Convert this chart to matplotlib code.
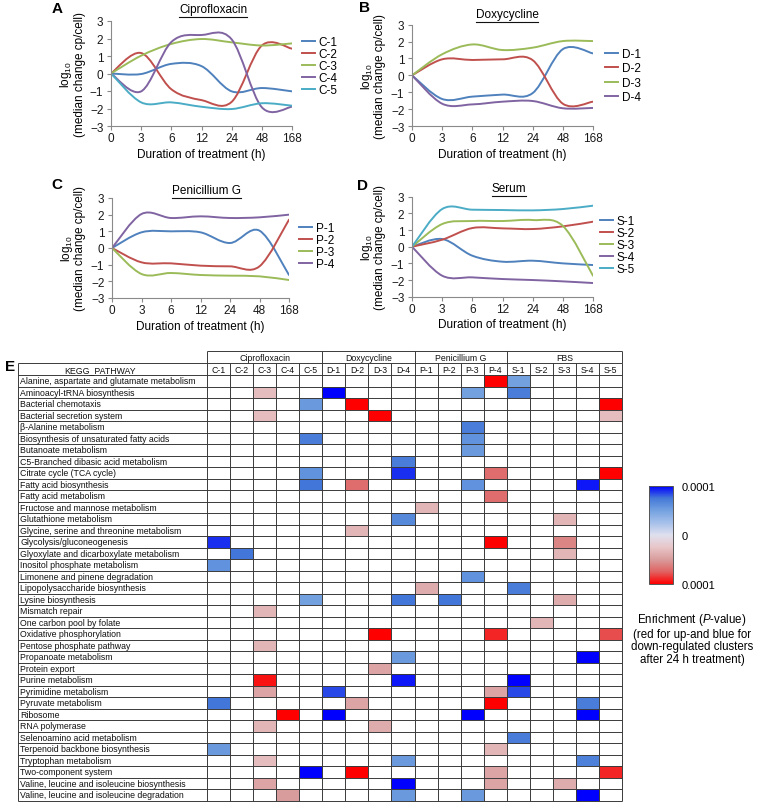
import matplotlib.pyplot as plt
import numpy as np
from matplotlib.path import Path
from matplotlib.patches import PathPatch
from matplotlib.lines import Line2D
from matplotlib.colors import LinearSegmentedColormap

plt.rcParams['font.family'] = ['Liberation Sans', 'DejaVu Sans']
plt.rcParams['mathtext.fontset'] = 'custom'
plt.rcParams['mathtext.rm'] = 'Liberation Sans'
plt.rcParams['mathtext.it'] = 'Liberation Sans:italic'
plt.rcParams['mathtext.default'] = 'regular'

W, H = 757, 804

# time course data (log10 median change cp/cell)
timepoints = ['0', '3', '6', '12', '24', '48', '168']

cipro_labels = ['C-1', 'C-2', 'C-3', 'C-4', 'C-5']
cipro_values = [
    [0, -0.03, 0.55, 0.42, -1.02, -0.83, -1.02],
    [0, 1.17, -0.90, -1.52, -1.62, 1.60, 1.42],
    [0, 1.02, 1.69, 1.97, 1.78, 1.60, 1.72],
    [0, -1.02, 1.80, 2.20, 1.95, -1.93, -1.90],
    [0, -1.65, -1.65, -1.90, -2.03, -1.70, -1.84],
]
doxy_labels = ['D-1', 'D-2', 'D-3', 'D-4']
doxy_values = [
    [0, -1.40, -1.26, -1.14, -1.05, 1.55, 1.30],
    [0, 0.95, 0.91, 0.95, 0.90, -1.68, -1.56],
    [0, 1.25, 1.83, 1.50, 1.64, 2.03, 2.03],
    [0, -1.68, -1.72, -1.56, -1.52, -1.95, -1.93],
]
peni_labels = ['P-1', 'P-2', 'P-3', 'P-4']
peni_values = [
    [0, 0.94, 1.00, 0.94, 0.30, 1.04, -1.62],
    [0, -0.86, -0.92, -1.06, -1.10, -1.10, 1.70],
    [0, -1.56, -1.50, -1.62, -1.66, -1.70, -1.92],
    [0, 2.04, 1.80, 1.90, 1.80, 1.84, 2.00],
]
serum_labels = ['S-1', 'S-2', 'S-3', 'S-4', 'S-5']
serum_values = [
    [0, 0.46, -0.54, -0.90, -0.84, -1.00, -1.10],
    [0, 0.42, 1.12, 1.10, 1.06, 1.22, 1.50],
    [0, 1.36, 1.54, 1.54, 1.60, 1.25, -1.74],
    [0, -1.74, -1.84, -1.94, -2.00, -2.08, -2.18],
    [0, 2.26, 2.22, 2.20, 2.18, 2.26, 2.46],
]

# KEGG enrichment table
pathways = [
    'Alanine, aspartate and glutamate metabolism', 'Aminoacyl-tRNA biosynthesis',
    'Bacterial chemotaxis', 'Bacterial secretion system', 'β-Alanine metabolism',
    'Biosynthesis of unsaturated fatty acids', 'Butanoate metabolism',
    'C5-Branched dibasic acid metabolism', 'Citrate cycle (TCA cycle)',
    'Fatty acid biosynthesis', 'Fatty acid metabolism', 'Fructose and mannose metabolism',
    'Glutathione metabolism', 'Glycine, serine and threonine metabolism',
    'Glycolysis/gluconeogenesis', 'Glyoxylate and dicarboxylate metabolism',
    'Inositol phosphate metabolism', 'Limonene and pinene degradation',
    'Lipopolysaccharide biosynthesis', 'Lysine biosynthesis', 'Mismatch repair',
    'One carbon pool by folate', 'Oxidative phosphorylation', 'Pentose phosphate pathway',
    'Propanoate metabolism', 'Protein export', 'Purine metabolism', 'Pyrimidine metabolism',
    'Pyruvate metabolism', 'Ribosome', 'RNA polymerase', 'Selenoamino acid metabolism',
    'Terpenoid backbone biosynthesis', 'Tryptophan metabolism', 'Two-component system',
    'Valine, leucine and isoleucine biosynthesis', 'Valine, leucine and isoleucine degradation',
]
groups = ['Ciprofloxacin', 'Doxycycline', 'Penicillium G', 'FBS']
group_sizes = [5, 4, 4, 5]
clusters = cipro_labels + doxy_labels + peni_labels + serum_labels

# (pathway row, cluster, score): + blue = down-regulated, - red = up-regulated
enrichment = [
    (0, 'P-4', -1.0), (0, 'S-1', 0.5),
    (1, 'C-3', -0.3), (1, 'D-1', 1.0), (1, 'P-3', 0.5), (1, 'S-1', 0.72),
    (2, 'C-5', 0.55), (2, 'D-2', -1.0), (2, 'S-5', -1.0),
    (3, 'C-3', -0.3), (3, 'D-3', -1.0), (3, 'S-5', -0.3),
    (4, 'P-3', 0.72),
    (5, 'C-5', 0.72), (5, 'P-3', 0.6),
    (6, 'P-3', 0.55),
    (7, 'D-4', 0.72),
    (8, 'C-5', 0.6), (8, 'D-4', 0.9), (8, 'P-4', -0.7), (8, 'S-5', -1.0),
    (9, 'C-5', 0.75), (9, 'D-2', -0.7), (9, 'P-3', 0.6), (9, 'S-4', 0.95),
    (10, 'P-4', -0.7),
    (11, 'P-1', -0.35),
    (12, 'D-4', 0.65), (12, 'S-3', -0.35),
    (13, 'D-2', -0.35),
    (14, 'C-1', 0.9), (14, 'P-4', -1.0), (14, 'S-3', -0.6),
    (15, 'C-2', 0.75), (15, 'S-3', -0.35),
    (16, 'C-1', 0.6),
    (17, 'P-3', 0.6),
    (18, 'P-1', -0.4), (18, 'S-1', 0.72),
    (19, 'C-5', 0.5), (19, 'D-4', 0.75), (19, 'P-2', 0.75), (19, 'S-3', -0.4),
    (20, 'C-3', -0.35),
    (21, 'S-2', -0.35),
    (22, 'D-3', -1.0), (22, 'P-4', -0.9), (22, 'S-5', -0.8),
    (23, 'C-3', -0.35),
    (24, 'D-4', 0.55), (24, 'S-4', 1.0),
    (25, 'D-3', -0.45),
    (26, 'C-3', -0.95), (26, 'D-4', 0.95), (26, 'S-1', 1.0),
    (27, 'C-3', -0.45), (27, 'D-1', 0.85), (27, 'P-4', -0.45), (27, 'S-1', 0.85),
    (28, 'C-1', 0.75), (28, 'D-2', -0.45), (28, 'P-4', -1.0), (28, 'S-4', 0.72),
    (29, 'C-4', -1.0), (29, 'D-1', 1.0), (29, 'P-3', 1.0), (29, 'S-4', 1.0),
    (30, 'C-3', -0.35), (30, 'D-3', -0.4),
    (31, 'S-1', 0.72),
    (32, 'C-1', 0.55), (32, 'P-4', -0.35),
    (33, 'C-3', -0.3), (33, 'D-4', 0.55), (33, 'S-4', 0.7),
    (34, 'C-5', 1.0), (34, 'D-2', -1.0), (34, 'P-4', -0.45), (34, 'S-5', -0.9),
    (35, 'C-3', -0.45), (35, 'D-4', 1.0), (35, 'P-4', -0.45), (35, 'S-3', -0.4),
    (36, 'C-4', -0.5), (36, 'D-4', 0.55), (36, 'P-3', 0.55), (36, 'S-4', 1.0),
]

line_colors = ['#4F81BD', '#C0504D', '#9BBB59', '#8064A2', '#4BACC6']


def px_axes(x0, y0, x1, y1):
    return fig.add_axes([x0 / W, 1 - y1 / H, (x1 - x0) / W, (y1 - y0) / H])


def smooth_path(ys):
    # Excel-like smoothed line: Catmull-Rom segments as cubic Beziers
    pts = np.column_stack([np.arange(len(ys)), ys]).astype(float)
    verts = [pts[0]]
    codes = [Path.MOVETO]
    n = len(pts)
    for i in range(n - 1):
        p0 = pts[i - 1] if i > 0 else pts[i]
        p1, p2 = pts[i], pts[i + 1]
        p3 = pts[i + 2] if i + 2 < n else p2
        verts += [p1 + (p2 - p0) / 6, p2 - (p3 - p1) / 6, p2]
        codes += [Path.CURVE4] * 3
    return Path(verts, codes)


fig = plt.figure(figsize=(W / 100, H / 100), dpi=100)

panels = [
    ('A', 'Ciprofloxacin', cipro_labels, cipro_values, (111, 22, 292, 127),
     (213, 10), (302, 67.5), 0.0, (57, 9)),
    ('B', 'Doxycycline', doxy_labels, doxy_values, (412, 25.7, 593, 127),
     (507, 15), (605, 76.5), 0.2, (364, 8)),
    ('C', 'Penicillium G', peni_labels, peni_values, (112, 199, 289, 299),
     (206, 191), (299, 247.5), 0.0, (57, 185)),
    ('D', 'Serum', serum_labels, serum_values, (412, 197.7, 593, 297.7),
     (509, 189), (600, 246.5), 0.0, (363, 186)),
]

titles = []
for letter, title, labels, values, box, tpos, lpos, lspace, letpos in panels:
    ax = px_axes(*box)
    for k, ys in enumerate(values):
        ax.add_patch(PathPatch(smooth_path(ys), fill=False,
                               edgecolor=line_colors[k], lw=1.4, capstyle='round'))
    ax.set_xlim(0, len(timepoints) - 1)
    ax.set_ylim(-3, 3)
    ax.set_xticks(range(len(timepoints)), timepoints)
    ax.set_yticks(range(-3, 4))
    for s in ['top', 'right']:
        ax.spines[s].set_visible(False)
    for s in ['left', 'bottom']:
        ax.spines[s].set_color('#8a8a8a')
        ax.spines[s].set_linewidth(0.8)
    ax.tick_params(colors='#8a8a8a', labelcolor='#1a1a1a', labelsize=8.5,
                   length=3, width=0.8)
    ax.tick_params(axis='x', pad=1.5)
    ax.tick_params(axis='y', pad=2.5)
    ax.set_xlabel('Duration of treatment (h)', fontsize=8.5, labelpad=2.5)
    # two-line y label, placed line by line
    ymid = 1 - (box[1] + box[3]) / 2 / H
    fig.text((box[0] - 45) / W, ymid, 'log$_{10}$', rotation=90, ha='center',
             va='center', rotation_mode='anchor', fontsize=8.5)
    fig.text((box[0] - 31.5) / W, ymid, '(median change cp/cell)', rotation=90,
             ha='center', va='center', rotation_mode='anchor', fontsize=8.5)
    handles = [Line2D([], [], color=line_colors[k], lw=1.4) for k in range(len(labels))]
    ax_w, ax_h = box[2] - box[0], box[3] - box[1]
    ax.legend(handles, labels, loc='center left', frameon=False, fontsize=8.5,
              bbox_to_anchor=((lpos[0] - box[0]) / ax_w, (box[3] - lpos[1]) / ax_h),
              handlelength=1.1, handletextpad=0.3, labelspacing=lspace,
              borderaxespad=0, borderpad=0)
    t = fig.text(tpos[0] / W, 1 - tpos[1] / H, title, ha='center', va='center',
                 fontsize=8.5)
    titles.append(t)
    fig.text(letpos[0] / W, 1 - letpos[1] / H, letter, ha='center', va='center',
             fontsize=11, fontweight='bold')

fig.text(10 / W, 1 - 367 / H, 'E', ha='center', va='center', fontsize=11,
         fontweight='bold')

# heat map table
hax = px_axes(207, 376.25, 622, 801.75)
grid = np.full((len(pathways), len(clusters)), np.nan)
for r, cl, v in enrichment:
    grid[r, clusters.index(cl)] = v
cmap = LinearSegmentedColormap.from_list(
    'enrich', ['#ff0000', '#e06262', '#d99c9c', '#e8c6c8', '#dfe0ee',
               '#a6c0ea', '#74a2e0', '#4579d8', '#0000ff'])
cmap.set_bad('white')
mesh = hax.pcolormesh(np.arange(len(clusters) + 1), np.arange(len(pathways) + 1),
                      np.ma.masked_invalid(grid), cmap=cmap, vmin=-1, vmax=1)
nr, nc = len(pathways), len(clusters)
hax.set_xlim(0, nc)
hax.set_ylim(nr, 0)
hax.axis('off')

left = (18 - 207) / ((622 - 207) / nc)
top1, top0 = -1.05, -2.1
gl = dict(colors='#3a3a3a', lw=0.7, clip_on=False)
hax.hlines(np.arange(nr + 1), left, nc, **gl)
hax.hlines(top1, left, nc, **gl)
hax.hlines(top0, 0, nc, **gl)
hax.vlines([left], top1, nr, **gl)
hax.vlines(np.arange(nc + 1), top1, nr, **gl)
bounds = np.concatenate([[0], np.cumsum(group_sizes)])
hax.vlines(bounds, top0, top1, **gl)

for i, name in enumerate(pathways):
    hax.text(left + 0.1, i + 0.5, name, ha='left', va='center', fontsize=6.3,
             color='#111111', clip_on=False)
for j, cl in enumerate(clusters):
    hax.text(j + 0.5, top1 / 2, cl, ha='center', va='center', fontsize=6.3,
             color='#111111', clip_on=False)
for g, name in enumerate(groups):
    hax.text((bounds[g] + bounds[g + 1]) / 2, (top0 + top1) / 2, name, ha='center',
             va='center', fontsize=6.3, color='#111111', clip_on=False)
hax.text((100 - 207) / ((622 - 207) / nc), top1 / 2, 'KEGG_PATHWAY', ha='center',
         va='center', fontsize=6.3, color='#111111', clip_on=False)

cax = px_axes(649, 487, 673, 585)
cb = fig.colorbar(mesh, cax=cax, ticks=[-1, 0, 1])
cb.ax.set_yticklabels(['0.0001', '0', '0.0001'])
cb.ax.tick_params(length=0, labelsize=8, pad=6)
cb.outline.set_edgecolor('#555555')
cb.outline.set_linewidth(0.7)

fig.text(692 / W, 1 - 639 / H,
         'Enrichment ($\\mathit{P}$-value)\n(red for up-and blue for\n'
         'down-regulated clusters\nafter 24 h treatment)',
         ha='center', va='center', fontsize=8.3, linespacing=1.05)

# underline the panel titles
fig.canvas.draw()
renderer = fig.canvas.get_renderer()
for t in titles:
    bb = t.get_window_extent(renderer)
    y = bb.y0 - 2
    fig.add_artist(Line2D([bb.x0 / W, bb.x1 / W], [y / H, y / H],
                          transform=fig.transFigure, color='#111111', lw=0.8))

fig.savefig('out.png', dpi=100)
